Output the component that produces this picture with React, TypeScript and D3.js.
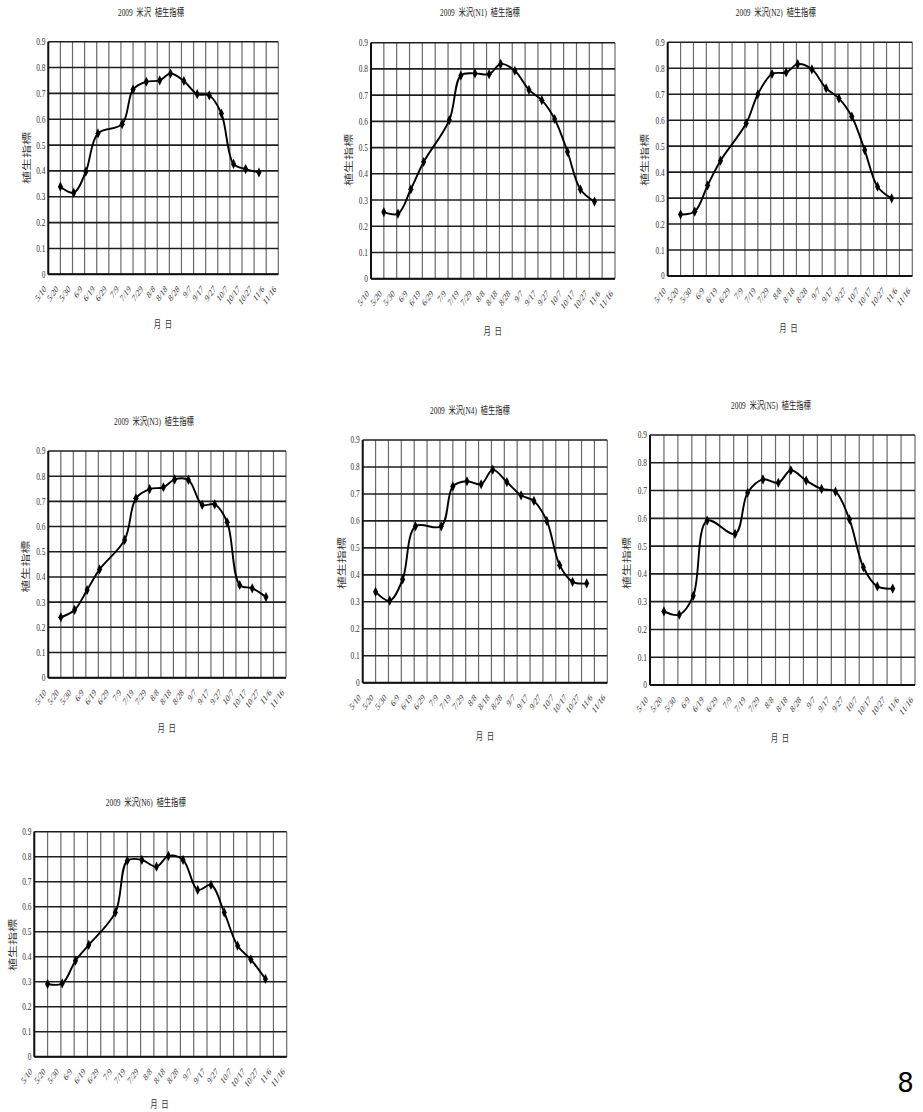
import React from "react";
import * as d3 from "d3";

// ---------- data ----------
const tickLabels = ["5/10","5/20","5/30","6/9","6/19","6/29","7/9","7/19","7/29","8/8","8/18","8/28","9/7","9/17","9/27","10/7","10/17","10/27","11/6","11/16"];
const obsDates = ["5/20","5/31","6/10","6/20","7/10","7/19","7/30","8/10","8/19","8/30","9/10","9/20","9/30","10/10","10/20","10/31"];
const yTickValues = [0, 0.1, 0.2, 0.3, 0.4, 0.5, 0.6, 0.7, 0.8, 0.9];
const yTickLabels = ["0","0.1","0.2","0.3","0.4","0.5","0.6","0.7","0.8","0.9"];

const titles = [
  "2009  米沢  植生指標",
  "2009  米沢(N1)  植生指標",
  "2009  米沢(N2)  植生指標",
  "2009  米沢(N3)  植生指標",
  "2009  米沢(N4)  植生指標",
  "2009  米沢(N5)  植生指標",
  "2009  米沢(N6)  植生指標",
];
const yAxisTitle = "植生指標";
const xAxisTitle = "月  日";

const valsYonezawa = [0.339,0.316,0.397,0.545,0.581,0.715,0.745,0.750,0.777,0.748,0.697,0.692,0.622,0.427,0.407,0.394];
const valsN1 = [0.254,0.248,0.341,0.445,0.605,0.775,0.783,0.780,0.819,0.793,0.720,0.681,0.609,0.484,0.341,0.294];
const valsN2 = [0.237,0.248,0.349,0.444,0.588,0.700,0.778,0.784,0.816,0.796,0.723,0.684,0.614,0.485,0.344,0.299];
const valsN3 = [0.240,0.269,0.348,0.430,0.547,0.712,0.749,0.756,0.787,0.785,0.686,0.688,0.617,0.368,0.355,0.320];
const valsN4 = [0.337,0.304,0.383,0.580,0.580,0.728,0.747,0.736,0.790,0.744,0.695,0.674,0.600,0.436,0.374,0.368];
const valsN5 = [0.265,0.253,0.321,0.592,0.544,0.692,0.740,0.728,0.773,0.736,0.706,0.696,0.596,0.424,0.355,0.347];
const valsN6 = [0.291,0.293,0.384,0.447,0.577,0.784,0.787,0.760,0.803,0.787,0.667,0.687,0.577,0.444,0.389,0.311];

const seriesList = [valsYonezawa, valsN1, valsN2, valsN3, valsN4, valsN5, valsN6];

// ---------- layout ----------
const layouts = [
  { x0: 48.3, x1: 278.3, y0: 41.7, y1: 274.3, tx: 151, ty: 12.7, ylx: 27, yly: 158, xlx: 163, xly: 325 },
  { x0: 371, x1: 615, y0: 42.7, y1: 278.7, tx: 480, ty: 12.7, ylx: 348.3, yly: 160, xlx: 492.7, xly: 331.7 },
  { x0: 667.7, x1: 912.3, y0: 42.3, y1: 276, tx: 775.8, ty: 12.7, ylx: 645, yly: 160, xlx: 788.3, xly: 328.3 },
  { x0: 48.3, x1: 286, y0: 451, y1: 677.7, tx: 154, ty: 421.7, ylx: 26, yly: 566.7, xlx: 166.7, xly: 728.3 },
  { x0: 362.7, x1: 607.3, y0: 440, y1: 682.7, tx: 470, ty: 411, ylx: 341.7, yly: 563.3, xlx: 485, xly: 736.7 },
  { x0: 650, x1: 915, y0: 435, y1: 685, tx: 771, ty: 406, ylx: 626.7, yly: 563.3, xlx: 780, xly: 738.3 },
  { x0: 34.3, x1: 286.7, y0: 831.7, y1: 1056.7, tx: 145.8, ty: 802.7, ylx: 12.7, yly: 945, xlx: 159.3, xly: 1104.5 },
];

const SQ = 0.7; // horizontal squeeze of text
const FONT = "'Liberation Serif', 'Noto Sans CJK JP', serif";

const parseMD = (s: string) => {
  const [m, d] = s.split("/").map(Number);
  return new Date(2009, m - 1, d);
};

function Panel({ idx }: { idx: number }) {
  const L = layouts[idx];
  const vals = seriesList[idx];
  const tickDates = tickLabels.map(parseMD);
  const x = d3.scaleTime().domain([tickDates[0], tickDates[tickDates.length - 1]]).range([L.x0, L.x1]);
  const y = d3.scaleLinear().domain([0, 0.9]).range([L.y1, L.y0]);
  const pts = obsDates.map((s, i) => [x(parseMD(s)), y(vals[i])] as [number, number]);
  const line = d3.line().curve(d3.curveCatmullRom.alpha(0.5))(pts) || "";
  const diamond = d3.symbol().type(d3.symbolDiamond).size(30)() || "";

  return (
    <g>
      <text
        transform={`translate(${L.tx},${L.ty}) scale(${SQ},1)`}
        textAnchor="middle"
        dominantBaseline="central"
        fontSize={10.5}
        fontFamily={FONT}
        fill="#222"
        style={{ whiteSpace: "pre" }}
      >
        {titles[idx]}
      </text>
      {/* vertical gridlines */}
      {tickDates.map((d, i) => (
        <line key={"v" + i} x1={x(d)} x2={x(d)} y1={L.y0} y2={L.y1} stroke="#6a6a6a" strokeWidth={1.2} />
      ))}
      {/* horizontal gridlines */}
      {yTickValues.map((v, i) => (
        <line key={"h" + i} x1={L.x0} x2={L.x1} y1={y(v)} y2={y(v)} stroke="#1e1e1e" strokeWidth={1.6} />
      ))}
      {/* axes */}
      <line x1={L.x0} x2={L.x0} y1={L.y0} y2={L.y1} stroke="#111" strokeWidth={2} />
      <line x1={L.x0} x2={L.x1} y1={L.y1} y2={L.y1} stroke="#111" strokeWidth={2} />
      {/* y tick labels */}
      {yTickValues.map((v, i) => (
        <text
          key={"yl" + i}
          transform={`translate(${L.x0 - 3},${y(v)}) scale(${SQ},1)`}
          textAnchor="end"
          dominantBaseline="central"
          fontSize={10.5}
          fontFamily={FONT}
          fill="#333"
        >
          {yTickLabels[i]}
        </text>
      ))}
      {/* x tick labels */}
      {tickDates.map((d, i) => (
        <text
          key={"xl" + i}
          transform={`translate(${x(d) - 3.3},${L.y1 + 13}) scale(${SQ},1) rotate(-45)`}
          textAnchor="end"
          dominantBaseline="central"
          fontSize={10}
          fontFamily={FONT}
          fill="#333"
        >
          {tickLabels[i]}
        </text>
      ))}
      {/* axis titles */}
      <text
        transform={`translate(${L.ylx},${L.yly}) scale(${SQ},1) rotate(-90)`}
        textAnchor="middle"
        dominantBaseline="central"
        fontSize={13}
        fontFamily={FONT}
        fill="#333"
      >
        {yAxisTitle}
      </text>
      <text
        transform={`translate(${L.xlx},${L.xly}) scale(${SQ},1)`}
        textAnchor="middle"
        dominantBaseline="central"
        fontSize={10.5}
        fontFamily={FONT}
        fill="#333"
        style={{ whiteSpace: "pre" }}
      >
        {xAxisTitle}
      </text>
      {/* data line */}
      <path d={line} fill="none" stroke="#000" strokeWidth={1.9} />
      {pts.map((p, i) => (
        <path key={"m" + i} d={diamond} transform={`translate(${p[0]},${p[1]}) scale(0.85,1)`} fill="#000" />
      ))}
    </g>
  );
}

export default function App() {
  return (
    <svg
      width={923}
      height={1112}
      style={{ position: "absolute", left: 0, top: 0, background: "#fff" }}
    >
      <rect x={0} y={0} width={923} height={1112} fill="#fff" />
      {layouts.map((_, i) => (
        <Panel key={i} idx={i} />
      ))}
      <text x={905.5} y={1092} textAnchor="middle" fontSize={26} fontFamily="'DejaVu Sans', sans-serif" fill="#000">
        8
      </text>
    </svg>
  );
}
